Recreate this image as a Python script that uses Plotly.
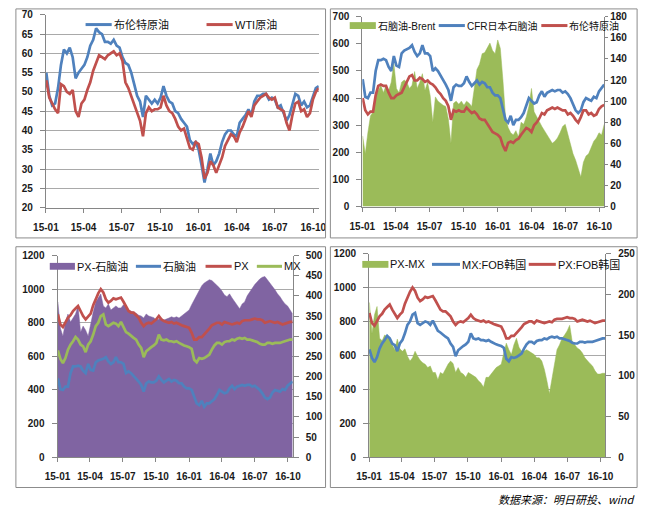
import pandas as pd
import plotly.graph_objects as go

W, H = 648, 517

# ---------------- data (weekly readings) ----------------
dates = pd.date_range("2015-01-02", periods=94, freq="7D")
tick_vals = ["2015-01-01", "2015-04-01", "2015-07-01", "2015-10-01",
             "2016-01-01", "2016-04-01", "2016-07-01", "2016-10-01"]
tick_text = ["15-01", "15-04", "15-07", "15-10", "16-01", "16-04", "16-07", "16-10"]

# Panel 1: 布伦特原油 / WTI原油 ($/bbl)
brent = [55, 49, 46.5, 47, 51, 57, 61, 60, 61.5, 59,
         53.5, 55, 56, 57, 59, 62, 63.5, 66.5, 65.5, 65,
         63, 63, 62.5, 63.5, 62, 61.5, 59, 57.5, 57, 55,
         52, 49, 47.5, 43.5, 49, 48, 47, 48, 47, 48.5,
         51.5, 49, 47.5, 47, 45, 44.5, 43, 42, 41, 37.5,
         36.5, 37, 35, 31, 26.5, 30, 34, 31, 32, 34,
         37, 39, 40, 40, 39, 38.5, 42, 43, 44, 45.5,
         44, 47.5, 49, 49, 49.5, 49.5, 48, 48.5, 48, 46,
         46.5, 44.5, 42.5, 44, 47, 49.5, 49, 46.5, 47.5, 46,
         46.5, 49, 51, 51.5]
wti = [53, 48.5, 47, 45.5, 44.5, 52, 51.5, 50, 49.5, 50.5,
       45, 43.5, 47, 48, 50.5, 52.5, 55.5, 57.5, 59.5, 59,
       58.5, 59.5, 60, 60.5, 59.5, 60, 58, 52.5, 51, 49,
       47, 45, 42.5, 38.5, 44.5, 46, 45, 45.5, 45.5, 46,
       49, 46.5, 45, 44.5, 43, 41, 40, 40.5, 38, 35.5,
       35, 37, 36.5, 33, 27.5, 29, 32, 31, 29, 31,
       33, 36, 37.5, 39, 38.5, 37, 39.5, 41, 43, 45,
       43.5, 46.5, 47.5, 48.5, 49, 49.5, 48.5, 48, 48.5, 46,
       45.5, 45, 42, 40, 44, 47, 47.5, 45, 45.5, 43.5,
       44.5, 48, 50, 51]

# Panel 2: 石脑油-Brent (right axis), CFR日本石脑油 & 布伦特原油 ($/t, left axis)
naphtha_brent = [67, 50, 70, 86, 90, 105, 110, 115, 108, 115,
                 110, 118, 136, 112, 108, 118, 120, 118, 112, 115,
                 128, 112, 118, 126, 110, 118, 105, 80, 104, 100,
                 98, 96, 95, 83, 60, 98, 100, 97, 100, 96,
                 100, 98, 95, 115, 130, 135, 145, 146, 150, 155,
                 148, 145, 158, 150, 120, 85, 75, 70, 68, 72,
                 66, 80, 78, 85, 95, 112, 90, 85, 80, 76,
                 72, 68, 64, 60, 62, 65, 70, 76, 78, 68,
                 58, 50, 44, 36, 28, 42, 48, 50, 56, 62,
                 65, 70, 68, 78]
naphtha = [470, 405, 400, 420, 420, 500, 540, 540, 545, 540,
           515, 500, 555, 520, 515, 565, 575, 580, 585, 595,
           570, 555, 565, 595, 565, 565, 555, 500, 510, 500,
           485, 470, 450, 430, 390, 440, 450, 445, 445, 455,
           480, 460, 445, 455, 465, 450, 460, 455, 440, 440,
           420, 410, 410, 400, 360, 320, 310, 335, 300, 320,
           320, 330, 345, 370, 400, 390, 380, 385, 410, 425,
           405, 420, 425, 430, 425, 430, 430, 420, 425, 415,
           400, 380, 355, 345, 355, 385, 400, 395, 390, 405,
           400, 425, 440, 450]
brent_t = [400, 355, 340, 350, 350, 410, 445, 450, 445, 445,
           420, 400, 400, 410, 415, 420, 440, 460, 480, 485,
           465, 465, 475, 470, 460, 465, 455, 450, 440, 425,
           415, 400, 390, 370, 320, 355, 350, 355, 350, 350,
           365, 355, 345, 350, 340, 325, 320, 320, 305, 285,
           275, 270, 265, 255, 225, 205, 235, 240, 235, 245,
           250, 265, 280, 290, 285, 275, 300, 310, 325, 345,
           340, 355, 360, 365, 360, 365, 360, 355, 355, 340,
           345, 335, 320, 310, 330, 355, 355, 340, 345, 335,
           340, 360, 370, 375]

# Panel 3: PX-石脑油 (right axis), 石脑油 / PX / MX (left axis)
px_naphtha = [385, 320, 300, 335, 355, 335, 345, 355, 375, 310,
              325, 315, 300, 335, 360, 385, 395, 405, 375, 370,
              380, 365, 370, 375, 370, 370, 378, 370, 365, 362,
              360, 357, 352, 350, 345, 355, 350, 348, 346, 340,
              342, 344, 340, 342, 345, 348, 346, 348, 345, 350,
              355, 360, 365, 378, 390, 400, 410, 425, 432, 436,
              440, 438, 432, 428, 420, 412, 402, 398, 405, 395,
              385, 375, 368, 380, 385, 400, 410, 420, 428, 435,
              442, 446, 448, 440, 432, 422, 415, 405, 398, 388,
              380, 375, 365, 355]
px = [850, 790, 775, 800, 830, 845, 870, 885, 900, 870,
      840, 820, 840, 855, 905, 945, 975, 1000, 980, 940,
      920, 930, 945, 940, 945, 950, 925, 895, 870, 860,
      860, 845, 830, 800, 780, 795, 800, 795, 805, 820,
      840, 820, 810, 805, 800, 805, 795, 800, 790, 785,
      780, 775, 770, 740, 700, 700, 715, 715, 730, 745,
      765, 785, 795, 800, 800, 790, 805, 800, 795, 790,
      795, 800, 795, 810, 815, 815, 815, 820, 825, 820,
      820, 815, 800, 805, 810, 805, 800, 805, 795, 790,
      795, 800, 805, 805]
mx = [635, 585, 560, 590, 640, 670, 690, 715, 700, 670,
      660, 625, 670, 690, 730, 780, 800, 840, 850, 790,
      780, 790, 800, 795, 780, 805, 770, 745, 735, 720,
      710, 700, 670, 650, 595, 630, 645, 655, 665, 680,
      730, 700, 695, 700, 690, 690, 685, 690, 680, 670,
      665, 660, 655, 645, 580, 565, 590, 585, 590, 600,
      610, 640, 665, 680, 680, 670, 685, 690, 690, 700,
      695, 705, 710, 705, 710, 700, 700, 695, 690, 685,
      675, 670, 670, 680, 680, 675, 680, 680, 680, 685,
      690, 695, 700, 700]

# Panel 4: PX-MX (right axis), MX:FOB韩国 / PX:FOB韩国 (left axis)
px_mx = [190, 152, 175, 185, 146, 143, 150, 148, 146, 138,
         132, 145, 133, 130, 133, 124, 118, 122, 130, 124,
         119, 116, 114, 110, 112, 104, 104, 95, 104, 102,
         108, 114, 118, 115, 104, 110, 104, 102, 98, 104,
         102, 100, 98, 94, 91, 86, 98, 98, 102, 106,
         110, 112, 114, 128, 140, 132, 126, 138, 146, 135,
         130, 130, 132, 130, 128, 126, 122, 122, 118, 108,
         94, 78, 96, 116, 132, 138, 146, 150, 155, 162,
         142, 138, 134, 132, 128, 122, 118, 115, 112, 106,
         102, 102, 103, 103]

# ---------------- styling ----------------
BLUE, RED, GREEN, PURPLE = "#4F81BD", "#C0504D", "#9BBB59", "#8064A2"
AXIS, GRID, BORDER = "#868686", "#a9a9a9", "#8c8c8c"
TICKFONT = dict(family="Liberation Sans", size=10, color="#1a1a1a", weight="bold")
LW = 2.7


def fx(p):
    return p / W


def fy(p):
    return 1 - p / H


def xax(x0, x1, anchor):
    return dict(domain=[fx(x0), fx(x1)], anchor=anchor, type="date",
                range=["2015-01-01", "2016-10-14"], tickmode="array",
                tickvals=tick_vals, ticktext=tick_text, showline=True,
                linecolor=AXIS, linewidth=1, ticks="outside", ticklen=4,
                tickcolor=AXIS, showgrid=False, zeroline=False,
                tickfont=TICKFONT, ticklabelstandoff=6, fixedrange=True)


def yax(rng, dtick, side, grid, anchor, domain=None, overlaying=None,
        ticklen=5, standoff=5):
    d = dict(anchor=anchor, range=rng, dtick=dtick, tick0=0, side=side,
             showline=True, linecolor=AXIS, linewidth=1, ticks="outside",
             ticklen=ticklen, tickcolor=AXIS, showgrid=grid, gridcolor=GRID,
             gridwidth=1, zeroline=False, tickfont=TICKFONT, fixedrange=True,
             ticklabelstandoff=standoff)
    if domain is not None:
        d["domain"] = [fy(domain[1]), fy(domain[0])]
    if overlaying is not None:
        d["overlaying"] = overlaying
    return d


def line(y, color, xa, ya, name):
    return go.Scatter(x=dates, y=y, mode="lines", name=name,
                      line=dict(color=color, width=LW), xaxis=xa, yaxis=ya,
                      showlegend=False, hoverinfo="skip")


def area(y, color, xa, ya, name):
    return go.Scatter(x=dates, y=y, mode="lines", name=name, fill="tozeroy",
                      fillcolor=color, line=dict(color=color, width=0.5),
                      xaxis=xa, yaxis=ya, showlegend=False, hoverinfo="skip")


fig = go.Figure()
# panel 1
fig.add_trace(line(brent, BLUE, "x", "y", "布伦特原油"))
fig.add_trace(line(wti, RED, "x", "y", "WTI原油"))
# panel 2
fig.add_trace(area(naphtha_brent, GREEN, "x2", "y2", "石脑油-Brent"))
fig.add_trace(line(naphtha, BLUE, "x2", "y3", "CFR日本石脑油"))
fig.add_trace(line(brent_t, RED, "x2", "y3", "布伦特原油"))
# panel 3
fig.add_trace(area(px_naphtha, PURPLE, "x3", "y4", "PX-石脑油"))
fig.add_trace(line(naphtha, BLUE, "x3", "y5", "石脑油"))
fig.add_trace(line(px, RED, "x3", "y5", "PX"))
fig.add_trace(line(mx, GREEN, "x3", "y5", "MX"))
# panel 4
fig.add_trace(area(px_mx, GREEN, "x4", "y6", "PX-MX"))
fig.add_trace(line(mx, BLUE, "x4", "y7", "MX:FOB韩国"))
fig.add_trace(line(px, RED, "x4", "y7", "PX:FOB韩国"))

# plot-area boxes (px): x0, x1, ytop, ybottom
P1 = (34, 316, 10, 207)
P2 = (361, 611, 12, 206)
P3 = (46, 289, 256, 462)
P4 = (368, 612, 254, 462)

layout = dict(
    width=W, height=H, margin=dict(l=0, r=0, t=0, b=0), autosize=False,
    paper_bgcolor="white", plot_bgcolor="rgba(0,0,0,0)", showlegend=False,
    xaxis=xax(P1[0], P1[1], "y"),
    yaxis=yax([20, 70], 5, "left", True, "x", domain=(P1[2], P1[3])),
    xaxis2=xax(P2[0], P2[1], "y2"),
    yaxis2=yax([0, 180], 20, "right", False, "x2", domain=(P2[2], P2[3]),
               ticklen=3, standoff=0),
    yaxis3=yax([0, 700], 100, "left", False, "x2", overlaying="y2"),
    xaxis3=xax(P3[0], P3[1], "y4"),
    yaxis4=yax([0, 500], 50, "right", False, "x3", domain=(P3[2], P3[3])),
    yaxis5=yax([0, 1200], 200, "left", True, "x3", overlaying="y4"),
    xaxis4=xax(P4[0], P4[1], "y6"),
    yaxis6=yax([0, 250], 50, "right", False, "x4", domain=(P4[2], P4[3])),
    yaxis7=yax([0, 1200], 200, "left", True, "x4", overlaying="y6"),
)
fig.update_layout(**layout)

shapes = []
annotations = []

# panel frames
for (x0, y0, x1, y1) in [(3, 4, 323, 238), (328, 4, 645, 238),
                         (3, 247, 323, 493), (328, 247, 645, 493)]:
    shapes.append(dict(type="rect", xref="paper", yref="paper",
                       x0=fx(x0), x1=fx(x1), y0=fy(y1), y1=fy(y0),
                       line=dict(color=BORDER, width=1), fillcolor="rgba(0,0,0,0)"))

# legend keys: (kind, color, x0, x1, ycenter, text, fontsize)
legend_items = [
    ("line", BLUE, 75, 102, 20, "布伦特原油", 11),
    ("line", RED, 200, 227, 20, "WTI原油", 11),
    ("rect", GREEN, 348, 375, 21, "石脑油-Brent", 10),
    ("line", BLUE, 440, 467, 21, "CFR日本石脑油", 10),
    ("line", RED, 546, 573, 21, "布伦特原油", 10),
    ("rect", PURPLE, 38, 64, 267, "PX-石脑油", 11),
    ("line", BLUE, 127, 153, 267, "石脑油", 11),
    ("line", RED, 199, 226, 267, "PX", 11),
    ("line", GREEN, 252, 278, 267, "MX", 11),
    ("rect", GREEN, 361, 388, 265, "PX-MX", 11),
    ("line", BLUE, 433, 462, 265, "MX:FOB韩国", 11),
    ("line", RED, 533, 561, 265, "PX:FOB韩国", 11),
]
for kind, color, x0, x1, yc, text, fs in legend_items:
    if kind == "line":
        shapes.append(dict(type="line", xref="paper", yref="paper",
                           x0=fx(x0), x1=fx(x1), y0=fy(yc), y1=fy(yc),
                           line=dict(color=color, width=3)))
    else:
        shapes.append(dict(type="rect", xref="paper", yref="paper",
                           x0=fx(x0), x1=fx(x1), y0=fy(yc + 3.5), y1=fy(yc - 3.5),
                           line=dict(width=0), fillcolor=color))
    annotations.append(dict(xref="paper", yref="paper", x=fx(x1 + 1), y=fy(yc),
                            xanchor="left", yanchor="middle", text=text,
                            showarrow=False, borderpad=0,
                            font=dict(family="Liberation Sans, Noto Sans CJK SC",
                                      size=fs, color="#111111")))

annotations.append(dict(xref="paper", yref="paper", x=fx(645), y=fy(505),
                        xanchor="right", yanchor="middle",
                        text="<i>数据来源：明日研投、wind</i>", showarrow=False,
                        font=dict(family="Noto Sans CJK SC", size=11, color="#000")))

fig.update_layout(shapes=shapes, annotations=annotations)
fig.write_html("out.html", config={"displayModeBar": False},
               post_script="document.body.style.margin='0';document.body.style.padding='0';")
